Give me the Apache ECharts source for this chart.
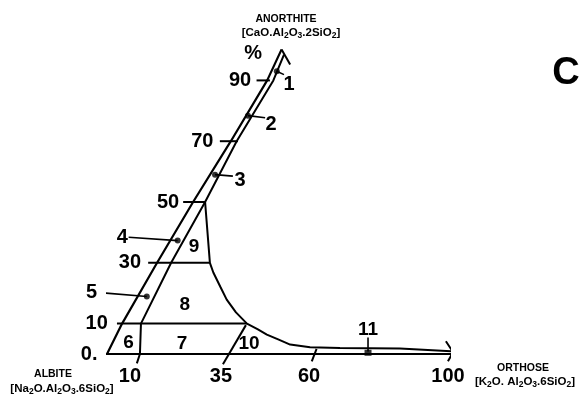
<!DOCTYPE html>
<html><head><meta charset="utf-8">
<script src="https://cdn.jsdelivr.net/npm/echarts@6/dist/echarts.min.js"></script>
<style>html,body{margin:0;padding:0;background:#fff}#c{width:582px;height:404px}</style>
</head><body><div id="c"></div><script>
// Diagram space: x = orthose %, y = anorthite %
const outerEdge = [[0,0],[4.4,10],[14.6,30],[25.1,50],[36.1,70],[46.7,90],[50.9,100.2]];
const innerEdge = [[9.9,10],[18.7,30],[28.6,50],[37.8,70],[48.5,90],[51.6,98.5]];
const apexCaret = [[50.9,100.2],[53.4,95.2]];
const fieldBoundary = [[28.6,50],[30,30],[31,26.8],[33,22.2],[34.9,17.9],[37.6,13.7],[40.8,10],[44,8.1],[46.6,6.4],[49.9,4.8],[53.4,3.1],[59.2,2.2],[67.9,2.0],[85.4,1.8],[100.9,0.9]];

const levelValues = [0, 10, 30, 50, 70, 90];
const levelLabels = ['0.', '10', '30', '50', '70', '90'];
const levelSpans = [[-0.3,100.9],[2.9,40.8],[12,30],[22.2,28.6],[32.9,38.2],[43.6,47.5]];
const levelLabelX = [-5.2, -3, 6.7, 17.8, 27.8, 38.8];
const percentLabel = [42.6, 99];

const orthoseLabels = ['10', '35', '60', '100'];
const orthoseLabelX = [6.7, 33.2, 58.9, 99.4];
const orthoseLabelY = -7.3;
const orthoseTickMarks = [
  [[9.9,10],[9.6,0],[8.7,-3.1]],
  [[33.8,-3.4],[40.5,9.5]],
  [[59.7,-2.4],[61.1,1.7]],
  [[98.8,4.2],[100.9,0.6],[99.4,-2.4]]
];

const sampleIds = ['1', '2', '3', '4', '5'];
const samplePoints = [[49.5,93],[41.1,78.4],[31.5,59],[20.6,37.3],[11.6,18.9]];
const sampleLeaderEnds = [[51.6,91.9],[46.1,77.7],[36.7,58.5],[6.3,38.4],[-2,20.2]];
const sampleLabelPts = [[53.1,88.6],[47.8,75.5],[38.8,57.1],[4.5,38.3],[-4.5,20.2]];

const fieldIds = ['6', '7', '8', '9', '10'];
const fieldLabelPts = [[6.3,3.8],[21.9,3.5],[22.7,16.3],[25.4,35.4],[41.4,3.5]];

const sample11 = [76.1, 0.4];
const sample11Label = [76.1, 8.0];
const sample11Leader = [[76.1,0.8],[76.1,5.4]];

const FONT = "'Liberation Sans', Arial, sans-serif";

function poly(data, width) {
  return { type: 'line', data: data, symbol: 'none', clip: false, silent: true,
    animation: false, lineStyle: { color: '#000', width: width || 2 }, z: 2 };
}
function texts(points, names, size) {
  return { type: 'scatter', clip: false, silent: true, animation: false,
    symbol: 'circle', symbolSize: 1, itemStyle: { color: 'rgba(0,0,0,0)' },
    data: points.map((p, i) => ({ value: p, name: names[i] })),
    label: { show: true, position: 'inside', formatter: p => p.name, opacity: 1,
      textBorderWidth: 0, color: '#000', fontSize: size, fontWeight: 'bold', fontFamily: FONT }, z: 5 };
}

const series = [];
series.push(poly(outerEdge, 2.2));
series.push(poly(innerEdge, 2));
series.push(poly(apexCaret, 2));
series.push(poly(fieldBoundary, 2));
levelValues.forEach((v, i) => series.push(poly([[levelSpans[i][0], v], [levelSpans[i][1], v]], 2)));
orthoseTickMarks.forEach(t => series.push(poly(t, 2)));
sampleIds.forEach((s, i) => series.push(poly([samplePoints[i], sampleLeaderEnds[i]], 1.6)));
series.push(poly(sample11Leader, 1.6));

series.push({ type: 'scatter', clip: false, silent: true, animation: false, symbolSize: 6,
  itemStyle: { color: '#000' }, data: samplePoints, z: 4 });
series.push({ type: 'scatter', clip: false, silent: true, animation: false, symbol: 'rect',
  symbolSize: [7, 6], itemStyle: { color: '#000' }, data: [sample11], z: 4 });

series.push(texts(levelValues.map((v, i) => [levelLabelX[i], v]), levelLabels, 20));
series.push(texts([percentLabel], ['%'], 20));
series.push(texts(orthoseLabelX.map(x => [x, orthoseLabelY]), orthoseLabels, 20));
series.push(texts(sampleLabelPts, sampleIds, 20));
series.push(texts(fieldLabelPts, fieldIds, 19));
series.push(texts([sample11Label], ['11'], 19));

const rich = {
  n: { fontSize: 11.5, fontWeight: 'bold', fontFamily: FONT, color: '#000' },
  s: { fontSize: 8.5, fontWeight: 'bold', fontFamily: FONT, color: '#000', padding: [6, 0, 0, 0] },
  h: { fontSize: 10.5, fontWeight: 'bold', fontFamily: FONT, color: '#000' }
};
function formula(parts) {
  return parts.map((p, i) => (i % 2 === 0 ? '{n|' + p + '}' : '{s|' + p + '}')).join('');
}
function gtext(x, y, text, extra) {
  return Object.assign({ type: 'text', x: x, y: y, silent: true,
    style: Object.assign({ text: text, fill: '#000', font: 'bold 10.5px ' + FONT,
      align: 'center', verticalAlign: 'middle', textAlign: 'center', textVerticalAlign: 'middle', rich: rich }, extra || {}) });
}

const option = {
  backgroundColor: '#fff',
  animation: false,
  grid: { left: 107, right: 132, top: 50, bottom: 50 },
  xAxis: { type: 'value', min: 0, max: 100, show: false },
  yAxis: { type: 'value', min: 0, max: 100, show: false },
  graphic: [
    gtext(286, 19, '{h|ANORTHITE}'),
    gtext(291, 33, formula(['[CaO.Al', '2', 'O', '3', '.2SiO', '2', ']'])),
    gtext(53, 374, '{h|ALBITE}'),
    gtext(62, 389, formula(['[Na', '2', 'O.Al', '2', 'O', '3', '.6SiO', '2', ']'])),
    gtext(523, 368, '{h|ORTHOSE}'),
    gtext(525, 382, formula(['[K', '2', 'O. Al', '2', 'O', '3', '.6SiO', '2', ']'])),
    gtext(566, 74, 'C', { font: 'bold 38px ' + FONT, rich: null })
  ],
  series: series
};
echarts.init(document.getElementById('c'), null, { renderer: 'canvas' }).setOption(option);
</script></body></html>
